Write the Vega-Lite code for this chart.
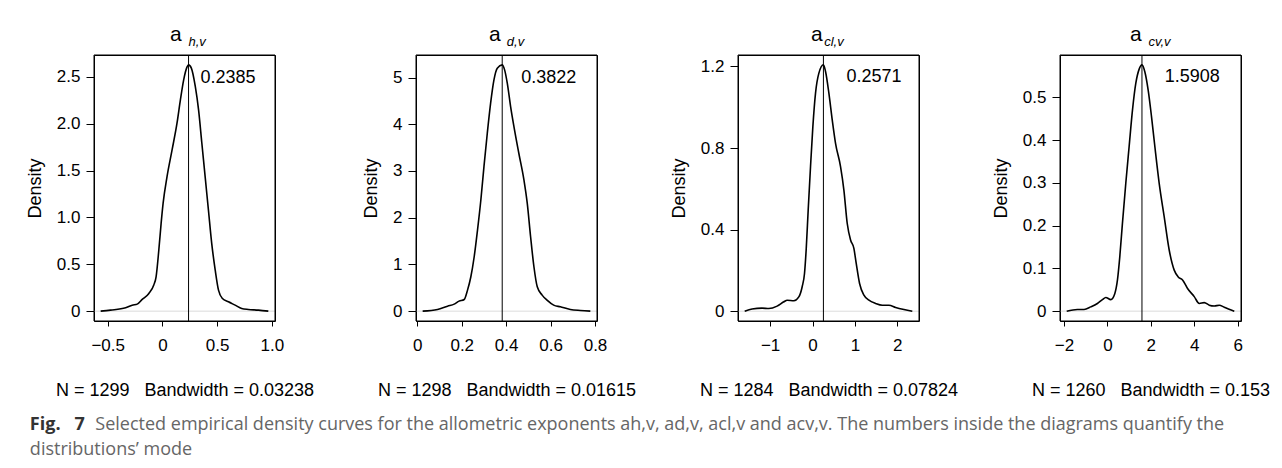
{
  "$schema": "https://vega.github.io/schema/vega-lite/v6.json",
  "background": "white",
  "padding": {"left": 25, "top": 23, "right": 5, "bottom": 5},
  "datasets": {
    "p1": [
      {"x": -0.564, "y": 0}, {"x": -0.474, "y": 0.011}, {"x": -0.336, "y": 0.036}, {"x": -0.276, "y": 0.064}, {"x": -0.23, "y": 0.075}, {"x": -0.185, "y": 0.125}, {"x": -0.124, "y": 0.189}, {"x": -0.079, "y": 0.278}, {"x": -0.058, "y": 0.367}, {"x": -0.033, "y": 0.652}, {"x": -0.012, "y": 0.937}, {"x": 0.006, "y": 1.15}, {"x": 0.042, "y": 1.435}, {"x": 0.088, "y": 1.72}, {"x": 0.133, "y": 2.005}, {"x": 0.164, "y": 2.254}, {"x": 0.194, "y": 2.468}, {"x": 0.224, "y": 2.603}, {"x": 0.2385, "y": 2.628}, {"x": 0.264, "y": 2.593}, {"x": 0.3, "y": 2.397}, {"x": 0.33, "y": 2.147}, {"x": 0.36, "y": 1.791}, {"x": 0.39, "y": 1.435}, {"x": 0.42, "y": 1.079}, {"x": 0.45, "y": 0.723}, {"x": 0.482, "y": 0.438}, {"x": 0.512, "y": 0.224}, {"x": 0.548, "y": 0.135}, {"x": 0.603, "y": 0.1}, {"x": 0.664, "y": 0.064}, {"x": 0.724, "y": 0.028}, {"x": 0.785, "y": 0.018}, {"x": 0.876, "y": 0.011}, {"x": 0.967, "y": 0}
    ],
    "p2": [
      {"x": 0.024, "y": 0}, {"x": 0.091, "y": 0.036}, {"x": 0.136, "y": 0.107}, {"x": 0.166, "y": 0.15}, {"x": 0.188, "y": 0.214}, {"x": 0.211, "y": 0.25}, {"x": 0.226, "y": 0.45}, {"x": 0.241, "y": 0.736}, {"x": 0.256, "y": 1.164}, {"x": 0.271, "y": 1.736}, {"x": 0.286, "y": 2.379}, {"x": 0.3, "y": 3.093}, {"x": 0.315, "y": 3.807}, {"x": 0.33, "y": 4.45}, {"x": 0.345, "y": 4.95}, {"x": 0.36, "y": 5.2}, {"x": 0.3822, "y": 5.271}, {"x": 0.393, "y": 5.164}, {"x": 0.405, "y": 4.879}, {"x": 0.42, "y": 4.379}, {"x": 0.435, "y": 3.95}, {"x": 0.457, "y": 3.379}, {"x": 0.48, "y": 2.807}, {"x": 0.495, "y": 2.307}, {"x": 0.51, "y": 1.593}, {"x": 0.525, "y": 0.95}, {"x": 0.54, "y": 0.521}, {"x": 0.562, "y": 0.343}, {"x": 0.584, "y": 0.236}, {"x": 0.614, "y": 0.129}, {"x": 0.644, "y": 0.093}, {"x": 0.689, "y": 0.036}, {"x": 0.734, "y": 0.014}, {"x": 0.779, "y": 0}
    ],
    "p3": [
      {"x": -1.6, "y": 0}, {"x": -1.425, "y": 0.011}, {"x": -1.19, "y": 0.015}, {"x": -1.03, "y": 0.013}, {"x": -0.835, "y": 0.025}, {"x": -0.677, "y": 0.046}, {"x": -0.598, "y": 0.054}, {"x": -0.44, "y": 0.051}, {"x": -0.323, "y": 0.07}, {"x": -0.244, "y": 0.12}, {"x": -0.189, "y": 0.185}, {"x": -0.15, "y": 0.3}, {"x": -0.102, "y": 0.496}, {"x": -0.047, "y": 0.709}, {"x": 0.008, "y": 0.905}, {"x": 0.071, "y": 1.069}, {"x": 0.15, "y": 1.167}, {"x": 0.2571, "y": 1.208}, {"x": 0.307, "y": 1.175}, {"x": 0.386, "y": 1.069}, {"x": 0.465, "y": 0.938}, {"x": 0.543, "y": 0.823}, {"x": 0.661, "y": 0.709}, {"x": 0.74, "y": 0.594}, {"x": 0.819, "y": 0.43}, {"x": 0.898, "y": 0.349}, {"x": 0.976, "y": 0.308}, {"x": 1.031, "y": 0.234}, {"x": 1.11, "y": 0.136}, {"x": 1.213, "y": 0.079}, {"x": 1.331, "y": 0.054}, {"x": 1.488, "y": 0.038}, {"x": 1.646, "y": 0.029}, {"x": 1.803, "y": 0.029}, {"x": 1.961, "y": 0.018}, {"x": 2.157, "y": 0.008}, {"x": 2.354, "y": 0}
    ],
    "p4": [
      {"x": -1.877, "y": 0}, {"x": -1.385, "y": 0.004}, {"x": -1.077, "y": 0.004}, {"x": -0.769, "y": 0.01}, {"x": -0.462, "y": 0.018}, {"x": -0.231, "y": 0.027}, {"x": -0.077, "y": 0.032}, {"x": 0.154, "y": 0.027}, {"x": 0.338, "y": 0.041}, {"x": 0.462, "y": 0.073}, {"x": 0.569, "y": 0.127}, {"x": 0.692, "y": 0.206}, {"x": 0.846, "y": 0.299}, {"x": 1.0, "y": 0.385}, {"x": 1.154, "y": 0.47}, {"x": 1.308, "y": 0.533}, {"x": 1.462, "y": 0.566}, {"x": 1.5908, "y": 0.576}, {"x": 1.723, "y": 0.56}, {"x": 1.877, "y": 0.517}, {"x": 2.031, "y": 0.455}, {"x": 2.185, "y": 0.385}, {"x": 2.385, "y": 0.299}, {"x": 2.615, "y": 0.221}, {"x": 2.846, "y": 0.143}, {"x": 3.077, "y": 0.096}, {"x": 3.262, "y": 0.08}, {"x": 3.462, "y": 0.073}, {"x": 3.692, "y": 0.053}, {"x": 4.0, "y": 0.034}, {"x": 4.231, "y": 0.018}, {"x": 4.462, "y": 0.02}, {"x": 4.692, "y": 0.014}, {"x": 4.923, "y": 0.012}, {"x": 5.154, "y": 0.014}, {"x": 5.385, "y": 0.009}, {"x": 5.846, "y": 0}
    ]
  },
  "title": {
    "text": "Fig.\u00a0\u00a0\u00a07",
    "subtitle": [
      "\u200b\u00a0\u00a0\u00a0\u00a0\u00a0\u00a0\u00a0\u00a0\u00a0\u00a0\u00a0\u00a0\u00a0\u00a0Selected empirical density curves for the allometric exponents ah,v, ad,v, acl,v and acv,v. The numbers inside the diagrams quantify the",
      "distributions’ mode"
    ],
    "orient": "bottom",
    "anchor": "start",
    "offset": 16,
    "dx": 4,
    "font": "Open Sans",
    "fontSize": 18,
    "fontWeight": "bold",
    "color": "#333333",
    "subtitleFont": "Open Sans",
    "subtitleFontSize": 18,
    "subtitleFontStyle": "normal",
    "subtitleColor": "#666666",
    "subtitlePadding": -18,
    "subtitleLineHeight": 25
  },
  "hconcat": [
    {
      "width": 181, "height": 266,
      "title": {"text": "a\u00a0\u00a0\u00a0\u200b", "subtitle": "\u200b\u00a0\u00a0\u00a0\u00a0\u00a0\u00a0\u00a0h,v"},
      "encoding": {
        "x": {"field": "x", "type": "quantitative", "scale": {"domain": [-0.625, 1.028], "nice": false, "zero": false},
              "axis": {"values": [-0.5, 0, 0.5, 1], "labelExpr": "datum.value == 0 ? '0' : format(datum.value, '.1f')", "title": "N = 1299\u00a0\u00a0\u00a0Bandwidth = 0.03238"}},
        "y": {"field": "y", "type": "quantitative", "scale": {"domain": [-0.105, 2.733], "nice": false, "zero": false},
              "axis": {"values": [0, 0.5, 1, 1.5, 2, 2.5], "labelExpr": "datum.value == 0 ? '0' : format(datum.value, '.1f')", "title": "Density"}}
      },
      "layer": [
        {
          "data": {"values": [{"x": -0.625, "x2": 1.028, "y": 0}]},
          "mark": {"type": "rule", "color": "#cccccc", "strokeWidth": 0.7},
          "encoding": {"x2": {"field": "x2"}}
        },
        {
          "data": {"name": "p1"},
          "mark": {"type": "line", "color": "black", "strokeWidth": 1.6, "interpolate": "monotone"}
        },
        {
          "data": {"values": [{"x": 0.2385, "y": -0.105, "y2": 2.733}]},
          "mark": {"type": "rule", "color": "black", "strokeWidth": 1},
          "encoding": {"y2": {"field": "y2"}}
        },
        {
          "data": {"values": [{"x": 0.348, "y": 2.487, "label": "0.2385"}]},
          "mark": {"type": "text", "align": "left", "baseline": "middle", "font": "Liberation Sans", "fontSize": 18, "color": "black"},
          "encoding": {"text": {"field": "label"}}
        },
        {
          "data": {"values": [{"x": -0.625, "x2": 1.028, "y": -0.105, "y2": 2.733}]},
          "mark": {"type": "rect", "fill": "transparent", "stroke": "black", "strokeWidth": 1},
          "encoding": {"x2": {"field": "x2"}, "y2": {"field": "y2"}}
        }
      ]
    },
    {
      "width": 181, "height": 266,
      "title": {"text": "a\u00a0\u00a0\u00a0\u00a0\u200b", "subtitle": "\u200b\u00a0\u00a0\u00a0\u00a0\u00a0d,v"},
      "encoding": {
        "x": {"field": "x", "type": "quantitative", "scale": {"domain": [-0.006, 0.809], "nice": false, "zero": false},
              "axis": {"values": [0, 0.2, 0.4, 0.6, 0.8], "labelExpr": "datum.value == 0 ? '0' : format(datum.value, '.1f')", "title": "N = 1298\u00a0\u00a0\u00a0Bandwidth = 0.01615"}},
        "y": {"field": "y", "type": "quantitative", "scale": {"domain": [-0.211, 5.482], "nice": false, "zero": false},
              "axis": {"values": [0, 1, 2, 3, 4, 5], "format": "d", "title": "Density"}}
      },
      "layer": [
        {
          "data": {"values": [{"x": -0.006, "x2": 0.809, "y": 0}]},
          "mark": {"type": "rule", "color": "#cccccc", "strokeWidth": 0.7},
          "encoding": {"x2": {"field": "x2"}}
        },
        {
          "data": {"name": "p2"},
          "mark": {"type": "line", "color": "black", "strokeWidth": 1.6, "interpolate": "monotone"}
        },
        {
          "data": {"values": [{"x": 0.3822, "y": -0.211, "y2": 5.482}]},
          "mark": {"type": "rule", "color": "black", "strokeWidth": 1},
          "encoding": {"y2": {"field": "y2"}}
        },
        {
          "data": {"values": [{"x": 0.468, "y": 4.983, "label": "0.3822"}]},
          "mark": {"type": "text", "align": "left", "baseline": "middle", "font": "Liberation Sans", "fontSize": 18, "color": "black"},
          "encoding": {"text": {"field": "label"}}
        },
        {
          "data": {"values": [{"x": -0.006, "x2": 0.809, "y": -0.211, "y2": 5.482}]},
          "mark": {"type": "rect", "fill": "transparent", "stroke": "black", "strokeWidth": 1},
          "encoding": {"x2": {"field": "x2"}, "y2": {"field": "y2"}}
        }
      ]
    },
    {
      "width": 181, "height": 266,
      "title": {"text": "a\u00a0\u00a0\u00a0\u00a0\u200b", "subtitle": "\u200b\u00a0\u00a0\u00a0cl,v"},
      "encoding": {
        "x": {"field": "x", "type": "quantitative", "scale": {"domain": [-1.758, 2.512], "nice": false, "zero": false},
              "axis": {"values": [-1, 0, 1, 2], "format": "d", "title": "N = 1284\u00a0\u00a0\u00a0Bandwidth = 0.07824"}},
        "y": {"field": "y", "type": "quantitative", "scale": {"domain": [-0.048, 1.256], "nice": false, "zero": false},
              "axis": {"values": [0, 0.4, 0.8, 1.2], "labelExpr": "datum.value == 0 ? '0' : format(datum.value, '.1f')", "title": "Density"}}
      },
      "layer": [
        {
          "data": {"values": [{"x": -1.758, "x2": 2.512, "y": 0}]},
          "mark": {"type": "rule", "color": "#cccccc", "strokeWidth": 0.7},
          "encoding": {"x2": {"field": "x2"}}
        },
        {
          "data": {"name": "p3"},
          "mark": {"type": "line", "color": "black", "strokeWidth": 1.6, "interpolate": "monotone"}
        },
        {
          "data": {"values": [{"x": 0.2571, "y": -0.048, "y2": 1.256}]},
          "mark": {"type": "rule", "color": "black", "strokeWidth": 1},
          "encoding": {"y2": {"field": "y2"}}
        },
        {
          "data": {"values": [{"x": 0.801, "y": 1.149, "label": "0.2571"}]},
          "mark": {"type": "text", "align": "left", "baseline": "middle", "font": "Liberation Sans", "fontSize": 18, "color": "black"},
          "encoding": {"text": {"field": "label"}}
        },
        {
          "data": {"values": [{"x": -1.758, "x2": 2.512, "y": -0.048, "y2": 1.256}]},
          "mark": {"type": "rect", "fill": "transparent", "stroke": "black", "strokeWidth": 1},
          "encoding": {"x2": {"field": "x2"}, "y2": {"field": "y2"}}
        }
      ]
    },
    {
      "width": 181, "height": 266,
      "title": {"text": "a\u00a0\u00a0\u00a0\u00a0\u00a0\u200b", "subtitle": "\u200b\u00a0\u00a0\u00a0\u00a0\u00a0cv,v"},
      "encoding": {
        "x": {"field": "x", "type": "quantitative", "scale": {"domain": [-2.186, 6.155], "nice": false, "zero": false},
              "axis": {"values": [-2, 0, 2, 4, 6], "format": "d", "title": "N = 1260\u00a0\u00a0\u00a0Bandwidth = 0.153"}},
        "y": {"field": "y", "type": "quantitative", "scale": {"domain": [-0.023, 0.599], "nice": false, "zero": false},
              "axis": {"values": [0, 0.1, 0.2, 0.3, 0.4, 0.5], "labelExpr": "datum.value == 0 ? '0' : format(datum.value, '.1f')", "title": "Density"}}
      },
      "layer": [
        {
          "data": {"values": [{"x": -2.186, "x2": 6.155, "y": 0}]},
          "mark": {"type": "rule", "color": "#cccccc", "strokeWidth": 0.7},
          "encoding": {"x2": {"field": "x2"}}
        },
        {
          "data": {"name": "p4"},
          "mark": {"type": "line", "color": "black", "strokeWidth": 1.6, "interpolate": "monotone"}
        },
        {
          "data": {"values": [{"x": 1.5908, "y": -0.023, "y2": 0.599}]},
          "mark": {"type": "rule", "color": "black", "strokeWidth": 1},
          "encoding": {"y2": {"field": "y2"}}
        },
        {
          "data": {"values": [{"x": 2.64, "y": 0.547, "label": "1.5908"}]},
          "mark": {"type": "text", "align": "left", "baseline": "middle", "font": "Liberation Sans", "fontSize": 18, "color": "black"},
          "encoding": {"text": {"field": "label"}}
        },
        {
          "data": {"values": [{"x": -2.186, "x2": 6.155, "y": -0.023, "y2": 0.599}]},
          "mark": {"type": "rect", "fill": "transparent", "stroke": "black", "strokeWidth": 1},
          "encoding": {"x2": {"field": "x2"}, "y2": {"field": "y2"}}
        }
      ]
    }
  ],
  "spacing": 141,
  "bounds": "flush",
  "config": {
    "view": {"stroke": "black", "strokeWidth": 1},
    "axis": {
      "grid": false,
      "domain": false,
      "tickColor": "black",
      "tickWidth": 1,
      "labelColor": "black",
      "labelFont": "Liberation Sans",
      "labelFontSize": 17,
      "titleColor": "black",
      "titleFont": "Liberation Sans",
      "titleFontSize": 18,
      "titleFontWeight": "normal"
    },
    "axisX": {"tickSize": 5, "labelPadding": 11, "titlePadding": 28, "labelFlush": false},
    "axisY": {"tickSize": 8, "labelPadding": 6, "titlePadding": 12, "labelFlush": false},
    "title": {
      "font": "Liberation Sans",
      "fontSize": 21,
      "fontWeight": "normal",
      "color": "black",
      "subtitleFont": "Liberation Sans",
      "subtitleFontSize": 13,
      "subtitleFontStyle": "italic",
      "subtitleColor": "black",
      "subtitlePadding": -9,
      "offset": 6,
      "anchor": "middle"
    }
  }
}
